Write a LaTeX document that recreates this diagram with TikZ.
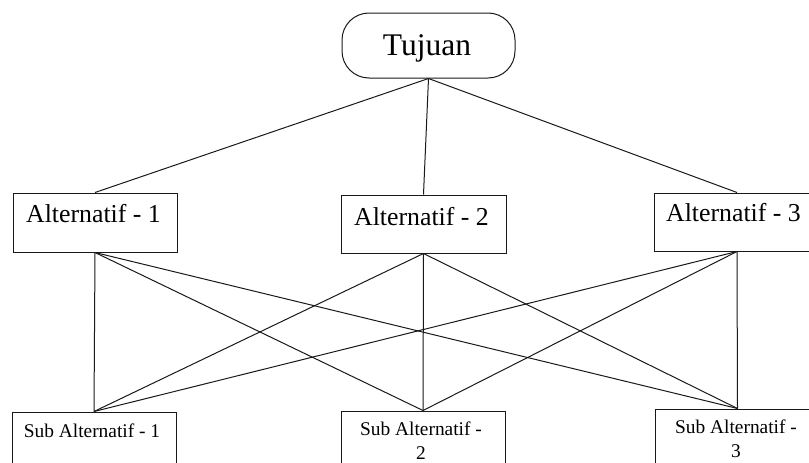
\documentclass[tikz,border=0pt]{standalone}
\usepackage{fontspec}
\setmainfont{Liberation Serif}
\begin{document}
\begin{tikzpicture}[x=1pt,y=-1pt,
  box/.style={draw=black!90,line width=1pt,rectangle,inner sep=0pt,fill=white},
  goalbox/.style={box,rounded corners=27pt},
  link/.style={draw=black!90,line width=1pt},
  goaltext/.style={anchor=base,inner sep=0pt,font=\fontsize{31.5}{36}\selectfont},
  alttext/.style={anchor=base,inner sep=0pt,font=\fontsize{25.8}{30}\selectfont},
  subtext/.style={anchor=base,inner sep=0pt,font=\fontsize{19.4}{24}\selectfont}]
\useasboundingbox (0,0) rectangle (809,463);
\clip (0,0) rectangle (809,463);

% boxes
\node[goalbox,minimum width=173pt,minimum height=65pt] (goal) at (428.5,45.5) {};
\node[box,minimum width=164pt,minimum height=59pt] (alt1) at (95,222.5) {};
\node[box,minimum width=165pt,minimum height=58pt] (alt2) at (423.5,224) {};
\node[box,minimum width=166pt,minimum height=58pt] (alt3) at (737,222) {};
\node[box,minimum width=164pt,minimum height=60pt] (sub1) at (94,442) {};
\node[box,minimum width=164pt,minimum height=60pt] (sub2) at (423,441) {};
\node[box,minimum width=165pt,minimum height=60pt] (sub3) at (737.5,439) {};

% connectors: goal to every alternative, every alternative to every sub-alternative
\foreach \a in {alt1,alt2,alt3}{
  \draw[link] (goal.south) -- (\a.north);
  \foreach \s in {sub1,sub2,sub3}{
    \draw[link] (\a.south) -- (\s.north);
  }
}

% labels
\node[goaltext] (tgoal) at (427,55) {Tujuan};
\node[alttext] (talt1) at (93.5,222) {Alternatif - 1};
\node[alttext] (talt2) at (421.5,225) {Alternatif - 2};
\node[alttext] (talt3) at (733.5,221) {Alternatif - 3};
\node[subtext] (tsub1) at (92,437) {Sub Alternatif - 1};
\node[subtext] (tsub2a) at (421,435) {Sub Alternatif -};
\node[subtext] (tsub2b) at (421,459) {2};
\node[subtext] (tsub3a) at (736,433) {Sub Alternatif -};
\node[subtext] (tsub3b) at (736,457) {3};
\end{tikzpicture}
\end{document}
